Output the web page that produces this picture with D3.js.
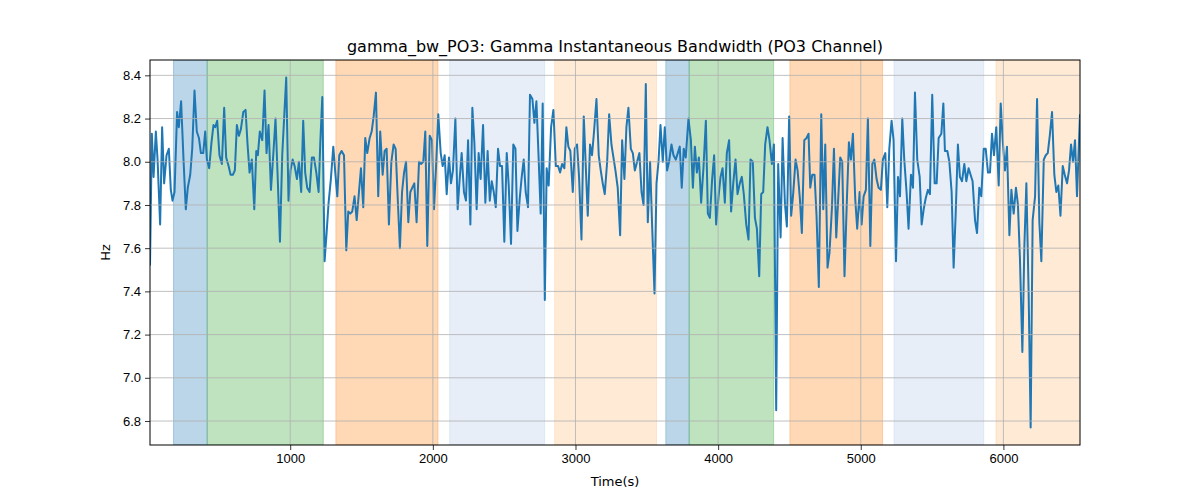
<!DOCTYPE html>
<html>
<head>
<meta charset="utf-8">
<script src="https://cdn.jsdelivr.net/npm/d3@7"></script>
<style>
  body { margin: 0; background: #fff; }
  svg { font-family: "DejaVu Sans", sans-serif; }
</style>
</head>
<body>
<div id="chart"></div>
<script>
// time stamps (s) and gamma bandwidth (Hz)
var times = [17,30,42,58,70,88,102,116,133,149,163,175,189,207,219,235,252,268,282,299,313,329,345,360,374,390,404,416,432,448,462,474,488,504,521,537,551,568,582,598,612,626,640,654,671,687,701,715,731,748,762,773,787,804,820,834,848,865,881,897,911,928,944,972,988,1002,1017,1031,1047,1061,1077,1091,1105,1119,1136,1152,1166,1183,1199,1211,1225,1241,1255,1269,1285,1302,1316,1330,1344,1360,1377,1393,1407,1421,1435,1451,1466,1482,1496,1512,1526,1540,1557,1571,1585,1601,1617,1631,1648,1662,1676,1692,1709,1725,1739,1755,1769,1784,1798,1812,1828,1842,1856,1870,1886,1903,1917,1933,1947,1961,1978,1994,2008,2024,2038,2055,2069,2083,2097,2113,2127,2141,2158,2174,2188,2202,2218,2232,2247,2263,2277,2291,2307,2321,2335,2352,2368,2384,2399,2413,2427,2441,2457,2471,2485,2501,2518,2532,2548,2564,2579,2593,2609,2623,2637,2651,2667,2681,2698,2712,2726,2742,2756,2770,2785,2798,2812,2829,2845,2862,2878,2892,2906,2922,2936,2950,2964,2981,2995,3011,3025,3042,3058,3072,3086,3102,3116,3130,3147,3163,3177,3191,3205,3222,3236,3252,3266,3280,3296,3313,3327,3343,3357,3371,3388,3402,3416,3432,3448,3463,3477,3493,3507,3523,3537,3554,3568,3582,3596,3612,3626,3642,3656,3673,3687,3703,3717,3731,3745,3759,3773,3792,3809,3823,3837,3851,3865,3881,3897,3914,3928,3942,3958,3972,3986,4003,4017,4031,4047,4061,4077,4091,4106,4122,4136,4152,4166,4180,4197,4213,4227,4243,4258,4272,4288,4302,4316,4330,4346,4360,4377,4391,4407,4421,4438,4452,4468,4482,4498,4512,4526,4543,4557,4573,4587,4604,4620,4634,4646,4660,4676,4690,4706,4723,4737,4751,4767,4781,4798,4812,4828,4842,4856,4870,4886,4903,4917,4931,4945,4961,4975,4992,5006,5020,5036,5050,5067,5081,5095,5111,5125,5141,5155,5172,5186,5200,5216,5230,5247,5261,5275,5291,5305,5321,5335,5352,5366,5380,5396,5413,5427,5441,5455,5471,5485,5501,5518,5532,5546,5565,5579,5590,5607,5621,5637,5651,5665,5681,5695,5710,5726,5740,5756,5770,5784,5801,5815,5831,5845,5862,5876,5892,5906,5920,5934,5950,5967,5981,5995,6011,6025,6042,6056,6072,6088,6102,6116,6133,6147,6161,6177,6191,6205,6222,6236,6252,6266,6283,6297,6311,6325,6341,6357,6371,6385,6400,6416,6430,6446,6460,6474,6488,6502,6516,6537];
var bandwidth = [7.52,8.13,7.93,8.14,8.01,7.71,8.16,7.90,8.03,8.06,7.87,7.82,7.86,8.23,8.16,8.28,8.01,7.78,7.88,7.94,8.06,8.33,8.14,8.11,8.04,8.04,8.14,8.01,7.97,8.09,8.17,8.16,8.19,8.03,7.99,8.25,8.02,7.98,7.94,7.94,7.96,8.17,8.12,8.15,8.23,8.24,8.08,7.95,8.01,7.78,8.05,8.03,8.14,8.10,8.33,8.04,8.17,7.87,8.03,8.20,7.95,7.63,8.03,8.39,7.82,7.96,8.01,7.98,7.92,8.00,7.86,8.19,7.95,7.88,7.86,8.02,8.02,7.95,7.86,8.09,8.30,7.54,7.67,7.81,7.92,8.07,7.95,7.84,8.03,8.05,8.03,7.59,7.77,7.76,7.77,7.84,7.73,7.86,7.97,7.79,8.11,8.04,8.11,8.14,8.21,8.32,7.84,8.14,7.94,8.05,8.06,7.71,8.00,8.08,8.06,7.81,7.60,7.86,7.95,8.00,7.72,7.86,7.88,7.90,7.72,8.00,7.99,8.00,8.14,7.61,8.12,8.10,7.78,8.00,8.22,8.04,7.98,8.03,7.85,8.02,7.90,7.96,8.20,7.78,7.92,8.04,7.86,7.82,8.10,7.71,8.25,8.09,7.78,8.04,7.92,8.17,7.81,8.05,7.82,7.91,7.86,7.79,8.06,7.98,7.98,7.63,8.04,7.89,7.62,8.08,8.06,7.68,7.83,7.93,8.01,7.86,7.79,8.31,8.29,8.18,8.28,8.01,7.76,8.27,7.36,7.97,7.89,8.16,8.24,7.98,7.98,7.95,7.99,7.97,8.16,8.07,8.05,7.86,8.06,8.08,7.93,7.64,8.21,7.98,7.75,8.08,8.03,8.14,8.29,8.03,7.96,7.90,7.85,8.00,8.22,8.08,8.02,7.96,7.88,7.66,8.10,7.92,8.16,8.25,8.06,8.04,7.96,8.00,8.04,7.86,7.80,8.36,7.72,8.00,7.71,7.39,7.90,8.00,8.17,8.00,8.16,7.96,8.00,8.08,8.03,8.01,8.04,8.07,7.88,8.06,8.02,8.20,8.10,7.88,8.07,7.95,8.02,7.81,7.97,8.19,7.76,7.74,7.92,8.03,7.71,7.84,7.93,7.97,7.81,8.04,8.10,7.77,7.90,8.01,7.85,7.90,7.93,7.85,7.71,7.64,8.01,8.00,7.74,7.69,7.47,7.85,7.86,8.08,8.16,8.10,7.99,8.08,6.85,7.99,7.65,8.11,7.81,7.70,8.21,7.75,7.85,8.01,7.96,7.83,7.67,8.10,8.11,8.13,7.88,7.94,7.94,7.75,7.42,8.22,7.78,8.08,7.51,7.58,7.79,8.06,7.65,7.83,8.02,8.00,7.47,7.83,8.09,8.01,8.13,7.83,7.69,7.86,7.71,7.84,7.87,8.20,7.61,7.99,8.01,7.92,7.88,7.87,8.01,8.04,7.79,8.06,8.19,8.10,7.54,7.93,7.84,8.20,8.01,7.86,7.69,7.94,7.88,8.32,8.01,7.93,7.71,7.78,7.83,7.87,7.85,8.31,7.90,7.90,8.11,8.13,8.27,8.05,8.05,8.00,7.86,7.51,7.75,8.08,7.93,7.91,7.99,7.91,7.97,7.94,7.91,7.73,7.67,7.88,7.84,8.06,8.06,7.95,7.95,8.13,8.03,8.16,7.89,8.27,8.10,7.96,8.07,7.66,7.87,7.76,7.88,7.80,7.55,7.12,7.61,7.90,7.39,6.77,7.73,7.84,8.29,7.72,7.54,8.01,8.03,8.04,8.12,8.23,7.94,7.86,7.89,7.75,7.98,7.94,7.90,7.96,8.08,8.00,8.10,7.84,8.22];

// shaded phases (s)
var spanStart = [182, 418, 1320, 2118, 2854, 3633, 3797, 4503, 5233, 5948];
var spanEnd   = [418, 1232, 2036, 2784, 3568, 3797, 4389, 5153, 5862, 6600];
var spanColor = ["#1f77b4", "#2ca02c", "#ff7f0e", "#aec7e8", "#ffbb78",
                 "#1f77b4", "#2ca02c", "#ff7f0e", "#aec7e8", "#ffbb78"];

var xTicks = [1000, 2000, 3000, 4000, 5000, 6000];
var yTicks = [6.8, 7.0, 7.2, 7.4, 7.6, 7.8, 8.0, 8.2, 8.4];

var width = 1200, height = 500;
var margin = {top: 60, right: 120, bottom: 55, left: 150};

var points = times.map(function(t, i) { return {t: t, v: bandwidth[i]}; });

var x = d3.scaleLinear()
    .domain(d3.extent(times))
    .range([margin.left, width - margin.right]);

var yMin = d3.min(bandwidth), yMax = d3.max(bandwidth);
var pad = (yMax - yMin) * 0.05;
var y = d3.scaleLinear()
    .domain([yMin - pad, yMax + pad])
    .range([height - margin.bottom, margin.top]);

var svg = d3.select("#chart").append("svg")
    .attr("width", width)
    .attr("height", height);

svg.append("defs").append("clipPath").attr("id", "clip")
  .append("rect")
    .attr("x", margin.left).attr("y", margin.top)
    .attr("width", width - margin.left - margin.right)
    .attr("height", height - margin.top - margin.bottom);

var plot = svg.append("g").attr("clip-path", "url(#clip)");

// phase bands
plot.selectAll(".span")
    .data(spanStart)
  .enter().append("rect")
    .attr("class", "span")
    .attr("x", function(d) { return x(d); })
    .attr("y", margin.top)
    .attr("width", function(d, i) { return x(spanEnd[i]) - x(d); })
    .attr("height", height - margin.top - margin.bottom)
    .style("fill", function(d, i) { return spanColor[i]; })
    .style("fill-opacity", 0.3)
    .style("stroke", function(d, i) { return spanColor[i]; })
    .style("stroke-opacity", 0.3)
    .style("stroke-width", 1);

// grid
var grid = svg.append("g");
grid.selectAll(".vg").data(xTicks).enter().append("line")
    .attr("x1", function(d) { return x(d); }).attr("x2", function(d) { return x(d); })
    .attr("y1", margin.top).attr("y2", height - margin.bottom)
    .style("stroke", "#b0b0b0").style("stroke-width", 0.8);
grid.selectAll(".hg").data(yTicks).enter().append("line")
    .attr("x1", margin.left).attr("x2", width - margin.right)
    .attr("y1", function(d) { return y(d); }).attr("y2", function(d) { return y(d); })
    .style("stroke", "#b0b0b0").style("stroke-width", 0.8);

// series
var line = d3.line()
    .x(function(d) { return x(d.t); })
    .y(function(d) { return y(d.v); });

plot.append("path")
    .datum(points)
    .attr("d", line)
    .style("fill", "none")
    .style("stroke", "#1f77b4")
    .style("stroke-width", 2)
    .style("stroke-linejoin", "round");

// axes
var xAxis = svg.append("g")
    .attr("transform", "translate(0," + (height - margin.bottom) + ")")
    .call(d3.axisBottom(x).tickValues(xTicks).tickFormat(d3.format("d")).tickSizeOuter(0).tickSize(5).tickPadding(4));
var yAxis = svg.append("g")
    .attr("transform", "translate(" + margin.left + ",0)")
    .call(d3.axisLeft(y).tickValues(yTicks).tickFormat(d3.format(".1f")).tickSizeOuter(0).tickSize(5).tickPadding(4));

[xAxis, yAxis].forEach(function(a) {
  a.select(".domain").remove();
  a.selectAll("text").style("font-size", "13px").style("fill", "#000");
  a.selectAll("line").style("stroke", "#000").style("stroke-width", 0.8);
});

// frame
svg.append("rect")
    .attr("x", margin.left).attr("y", margin.top)
    .attr("width", width - margin.left - margin.right)
    .attr("height", height - margin.top - margin.bottom)
    .style("fill", "none").style("stroke", "#000").style("stroke-width", 1);

// labels
svg.append("text")
    .attr("x", (margin.left + width - margin.right) / 2)
    .attr("y", 52)
    .attr("text-anchor", "middle")
    .style("font-size", "16px")
    .text("gamma_bw_PO3: Gamma Instantaneous Bandwidth (PO3 Channel)");

svg.append("text")
    .attr("x", (margin.left + width - margin.right) / 2)
    .attr("y", 486)
    .attr("text-anchor", "middle")
    .style("font-size", "13px")
    .text("Time(s)");

svg.append("text")
    .attr("transform", "translate(110," + ((margin.top + height - margin.bottom) / 2) + ") rotate(-90)")
    .attr("text-anchor", "middle")
    .style("font-size", "13px")
    .text("Hz");
</script>
</body>
</html>
